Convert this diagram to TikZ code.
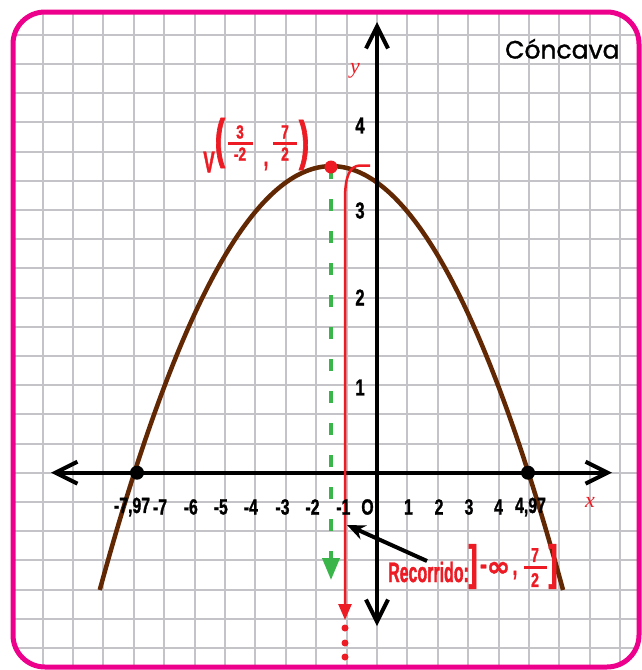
\documentclass[tikz,border=0pt]{standalone}
\usepackage{fontspec}
\usetikzlibrary{arrows.meta}
\newfontface\numfont{Liberation Sans Bold}[FakeStretch=0.72, FakeBold=1.2]
\newfontface\lblfont{Liberation Sans Bold}[FakeStretch=0.57, FakeBold=1.2]
\newfontface\inffont{DejaVu Sans Bold}[FakeBold=1.5]
\newfontface\titlefont{Poppins}[FakeBold=1.3]
\newfontfamily\varfont{Liberation Serif}
\definecolor{pinkb}{RGB}{236,0,140}
\definecolor{gridc}{RGB}{196,196,200}
\definecolor{brownc}{RGB}{98,40,4}
\definecolor{redc}{RGB}{237,28,36}
\definecolor{greenc}{RGB}{57,181,74}
\tikzset{
  gridline/.style={draw=gridc, line width=2pt},
  frame/.style={draw=pinkb, line width=5pt, rounded corners=32pt},
  axisline/.style={draw=black, line width=4pt, {Straight Barb[length=22pt,width=22pt]}-{Straight Barb[length=22pt,width=22pt]}},
  curveline/.style={draw=brownc, line width=4.5pt},
  xnum/.style={inner sep=0pt, font=\numfont\fontsize{22}{22}\selectfont},
  ynum/.style={inner sep=0pt, font=\numfont\fontsize{23}{23}\selectfont},
  vnum/.style={inner sep=0pt, text=redc, font=\numfont\fontsize{19}{19}\selectfont},
  rnum/.style={inner sep=0pt, text=redc, font=\numfont\fontsize{20}{20}\selectfont},
  redtxt/.style={inner sep=0pt, text=redc, font=\lblfont\fontsize{28}{28}\selectfont},
  bigdelim/.style={inner sep=0pt, text=redc, font=\lblfont\fontsize{#1}{#1}\selectfont},
  fracbar/.style={draw=redc, line width=3pt},
  varlbl/.style={inner sep=0pt, text=redc, font=\varfont\itshape\fontsize{22}{22}\selectfont},
  blackdot/.style={fill=black},
  reddot/.style={fill=redc},
}
\begin{document}
\begin{tikzpicture}[x=1pt,y=-1pt]
\useasboundingbox (0,0) rectangle (641,670);
\fill[white] (0,0) rectangle (641,670);
% grid
\begin{scope}
  \clip[rounded corners=32pt] (13,12) rectangle (639,667);
  \foreach \k in {-12,...,8} \draw[gridline] ({377+30.4*\k},0) -- ({377+30.4*\k},670);
  \foreach \k in {-15,...,6} \draw[gridline] (0,{472.7+29.2*\k}) -- (641,{472.7+29.2*\k});
\end{scope}
\draw[frame] (13,12) rectangle (639,667);

% parabola y = 3.5 - (x+1.5)^2/12
\draw[curveline, domain=-9.12:6.12, samples=120, smooth, variable=\t]
  plot ({377+30.4*\t},{472.7-87.6*(3.5-(\t+1.5)*(\t+1.5)/12)});

% axes
\coordinate (xl) at (51,472.7);
\coordinate (xr) at (612,472.7);
\coordinate (yb) at (377,626);
\coordinate (yt) at (377,22);
\draw[axisline] (xl) -- (xr);
\draw[axisline] (yb) -- (yt);

% green dashed line from vertex
\coordinate (vtx) at (331,167);
\coordinate (gend) at (331,580);
\draw[draw=greenc, line width=4pt, dash pattern=on 12pt off 20pt,
      -{Triangle[length=22pt,width=17pt]}] (vtx) -- (gend);

% red range line
\coordinate (rt) at (370,165.5);
\coordinate (rb) at (345,620);
\draw[draw=redc, line width=2.5pt, -{Triangle[length=16pt,width=13pt]}]
  (rt) -- (360,165.5) .. controls (350,166) and (345,175) .. (345,200) -- (rb);
\fill[reddot] (345,628) circle (3.5pt);
\fill[reddot] (345,643) circle (3.5pt);
\fill[reddot] (345,657) circle (3.5pt);

% dots
\fill[blackdot] (137,472.7) circle (7pt);
\fill[blackdot] (528,472.7) circle (7pt);
\fill[reddot] (vtx) circle (6.5pt);

% axis labels
\node[ynum] (y4) at (360,125.5) {4};
\node[ynum] (y3) at (360,210.5) {3};
\node[ynum] (y2) at (360,297.5) {2};
\node[ynum] (y1) at (360,387.5) {1};
\node[xnum] (xm797) at (132,507) {-7,97};
\node[xnum] (xm7) at (160,507) {-7};
\node[xnum] (xm6) at (190.8,507) {-6};
\node[xnum] (xm5) at (220.8,507) {-5};
\node[xnum] (xm4) at (250.8,507) {-4};
\node[xnum] (xm3) at (282.5,507) {-3};
\node[xnum] (xm2) at (312.5,507) {-2};
\node[xnum] (xm1) at (343.3,507) {-1};
\node[xnum] (xo) at (367.5,507) {O};
\node[xnum] (x1) at (408.5,507) {1};
\node[xnum] (x2) at (439,507) {2};
\node[xnum] (x3) at (469,507) {3};
\node[xnum] (x4) at (498.5,507) {4};
\node[xnum] (x497) at (530.5,507) {4,97};
\node[varlbl] (xlab) at (590,502) {x};
\node[varlbl] (ylab) at (355,71) {y};

% title
\node[inner sep=0pt, anchor=base west, font=\titlefont\fontsize{25}{25}\selectfont] (title) at (505,58.5) {Cóncava};

% vertex label
\node[redtxt, font=\lblfont\fontsize{30}{30}\selectfont] (vV) at (209,162) {V};
\node[bigdelim=54] (lp) at (220,143) {(};
\node[vnum] (f1n) at (240,132) {3};
\draw[fracbar] (228,143) -- (253,143);
\node[vnum] (f1d) at (240,154) {-2};
\node[bigdelim=28] (cm1) at (266,166) {,};
\node[vnum] (f2n) at (285,132) {7};
\draw[fracbar] (273,143) -- (297,143);
\node[vnum] (f2d) at (285,154) {2};
\node[bigdelim=54] (rp) at (304,145) {)};

% recorrido label
\node[redtxt, anchor=base west] (rec) at (388,582) {Recorrido:};
\node[bigdelim=48] (lb) at (473,566.5) {]};
\node[redtxt, font=\numfont\fontsize{30}{30}\selectfont] (minus) at (483.5,569.5) {-};
\node[inner sep=0pt, text=redc, font=\inffont\fontsize{28}{28}\selectfont] (inf) at (498.5,569) {∞};
\node[bigdelim=28] (cm2) at (515,575) {,};
\node[rnum] (f3n) at (535,555) {7};
\draw[fracbar] (524,567) -- (547,567);
\node[rnum] (f3d) at (535,580) {2};
\node[bigdelim=48] (rbk) at (553,566.5) {]};

% pointer arrow
\coordinate (ps) at (427,561);
\coordinate (pe) at (347,525);
\draw[line width=4pt, -{Stealth[length=18pt,width=15pt]}] (ps) -- (pe);
\end{tikzpicture}
\end{document}
